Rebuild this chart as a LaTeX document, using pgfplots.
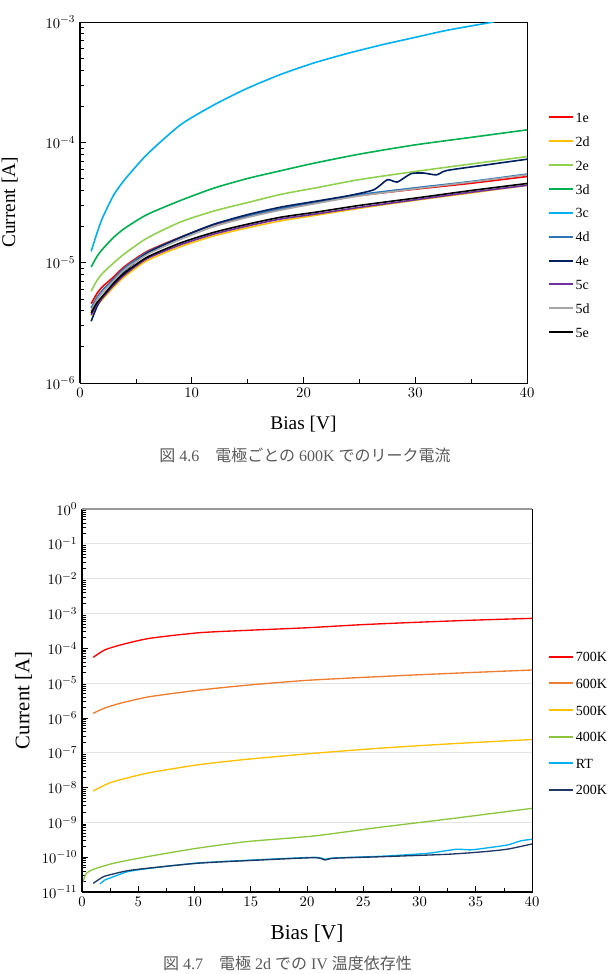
\documentclass[border=0pt]{standalone}
\usepackage{fontspec}
\setmainfont{Liberation Serif}
\newfontfamily\cjk{Noto Sans CJK JP}
\usepackage{pgfplots}
\pgfplotsset{compat=1.18}

% electrode colours
\definecolor{c1e}{HTML}{FF0000}
\definecolor{c2d}{HTML}{FFC000}
\definecolor{c2e}{HTML}{92D050}
\definecolor{c3d}{HTML}{00B050}
\definecolor{c3c}{HTML}{00B0F0}
\definecolor{c4d}{HTML}{2E75B6}
\definecolor{c4e}{HTML}{002060}
\definecolor{c5c}{HTML}{7030A0}
\definecolor{c5d}{HTML}{A6A6A6}
\definecolor{c5e}{HTML}{000000}
% temperature colours
\definecolor{t700}{HTML}{FF0000}
\definecolor{t600}{HTML}{ED7D31}
\definecolor{t500}{HTML}{FFC000}
\definecolor{t400}{HTML}{8CC63F}
\definecolor{tRT}{HTML}{00B0F0}
\definecolor{t200}{HTML}{1F3864}

\pgfplotsset{
  legend image code/.code={\draw[#1, line width=1.5pt] (0pt,0pt) -- (18pt,0pt);},
}

\begin{document}
\begin{tikzpicture}
\useasboundingbox (0,0) rectangle (458.25pt,-730.5pt);

% ---------- leakage current per electrode at 600 K ----------
\begin{axis}[
  scale only axis, ymode=log, xmin=0, xmax=40,
  tick pos=left, tick align=inside, minor x tick num=1,
  tick label style={font=\fontsize{11}{13}\selectfont},
  axis line style={black, line width=0.6pt},
  every tick/.style={black, line width=0.5pt},
  legend cell align=left,
  at={(60pt,-16.5pt)}, anchor=north west,
  width=335.25pt, height=270.75pt,
  ymin=1e-6, ymax=1e-3,
  xtick={0,10,20,30,40},
  ytick={1e-6,1e-5,1e-4,1e-3},
  xlabel={Bias [V]}, ylabel={Current [A]},
  xlabel style={font=\fontsize{14.5}{17}\selectfont, at={(axis description cs:0.5,-0.130)}, anchor=base},
  ylabel style={font=\fontsize{14.5}{17}\selectfont, at={(axis description cs:-0.145,0.5)}, anchor=base},
  legend style={at={(1.047,0.754)}, anchor=north west, draw=none, fill=none, inner sep=0pt,
    font=\fontsize{10.5}{12}\selectfont, row sep=8.4pt,
    nodes={inner sep=1pt, text height=7.5pt, text depth=0pt}},
  every axis plot/.append style={line width=1.2pt, smooth, tension=0.4},
  after end axis/.code={\draw[black, line width=1pt] (rel axis cs:0,0) -- (rel axis cs:0,1);},
]
\addplot[c1e] coordinates {(1,4.57e-6)(1.5,5.51e-6)(2,6.30e-6)(3,7.60e-6)(4,9.31e-6)(6,1.24e-5)(9,1.63e-5)(12,2.07e-5)(15,2.42e-5)(18,2.79e-5)(21,3.13e-5)(25,3.61e-5)(30,4.08e-5)(35,4.57e-5)(40,5.20e-5)};
\addlegendentry{1e}
\addplot[c2d] coordinates {(1,3.63e-6)(1.5,4.37e-6)(2,4.95e-6)(3,6.25e-6)(4,7.67e-6)(6,1.04e-5)(9,1.36e-5)(12,1.67e-5)(15,1.95e-5)(18,2.23e-5)(21,2.47e-5)(25,2.83e-5)(30,3.30e-5)(35,3.80e-5)(40,4.40e-5)};
\addlegendentry{2d}
\addplot[c2e] coordinates {(1,5.78e-6)(1.5,7.08e-6)(2,8.13e-6)(3,9.93e-6)(4,1.19e-5)(6,1.60e-5)(9,2.18e-5)(12,2.69e-5)(15,3.16e-5)(18,3.70e-5)(21,4.17e-5)(25,4.90e-5)(30,5.73e-5)(35,6.61e-5)(40,7.62e-5)};
\addlegendentry{2e}
\addplot[c3d] coordinates {(1,9.20e-6)(1.5,1.12e-5)(2,1.29e-5)(3,1.62e-5)(4,1.93e-5)(6,2.51e-5)(9,3.29e-5)(12,4.17e-5)(15,5.01e-5)(18,5.82e-5)(21,6.73e-5)(25,7.98e-5)(30,9.53e-5)(35,1.10e-4)(40,1.27e-4)};
\addlegendentry{3d}
\addplot[c3c] coordinates {(1,1.24e-5)(1.5,1.74e-5)(2,2.34e-5)(3,3.63e-5)(4,4.90e-5)(6,7.94e-5)(9,1.40e-4)(12,2.05e-4)(15,2.82e-4)(18,3.68e-4)(21,4.59e-4)(24,5.50e-4)(27,6.46e-4)(30,7.46e-4)(33,8.59e-4)(37,1.0e-3)};
\addlegendentry{3c}
\addplot[c4d] coordinates {(1,4.21e-6)(1.5,5.14e-6)(2,5.90e-6)(3,7.33e-6)(4,9.06e-6)(6,1.22e-5)(9,1.62e-5)(12,2.08e-5)(15,2.45e-5)(18,2.82e-5)(21,3.18e-5)(25,3.68e-5)(30,4.19e-5)(35,4.73e-5)(40,5.45e-5)};
\addlegendentry{4d}
\addplot[c4e] coordinates {(1,3.26e-6)(1.5,4.27e-6)(2,5.13e-6)(3,6.76e-6)(4,8.51e-6)(6,1.20e-5)(9,1.62e-5)(12,2.09e-5)(15,2.51e-5)(18,2.90e-5)(21,3.23e-5)(24,3.60e-5)(26.3,4.04e-5)(27.5,4.89e-5)(28.4,4.68e-5)(29.6,5.48e-5)(30.7,5.56e-5)(31.9,5.37e-5)(32.8,5.83e-5)(36,6.43e-5)(40,7.24e-5)};
\addlegendentry{4e}
\addplot[c5c] coordinates {(1,3.69e-6)(1.5,4.47e-6)(2,5.07e-6)(3,6.47e-6)(4,7.94e-6)(6,1.08e-5)(9,1.41e-5)(12,1.73e-5)(15,2.02e-5)(18,2.31e-5)(21,2.53e-5)(25,2.88e-5)(30,3.33e-5)(35,3.85e-5)(40,4.39e-5)};
\addlegendentry{5c}
\addplot[c5d] coordinates {(1,3.98e-6)(1.5,4.90e-6)(2,5.62e-6)(3,7.05e-6)(4,8.71e-6)(6,1.17e-5)(9,1.56e-5)(12,2.00e-5)(15,2.38e-5)(18,2.74e-5)(21,3.09e-5)(25,3.59e-5)(30,4.11e-5)(35,4.68e-5)(40,5.37e-5)};
\addlegendentry{5d}
\addplot[c5e] coordinates {(1,3.82e-6)(1.5,4.62e-6)(2,5.25e-6)(3,6.70e-6)(4,8.22e-6)(6,1.11e-5)(9,1.46e-5)(12,1.79e-5)(15,2.09e-5)(18,2.39e-5)(21,2.62e-5)(25,2.99e-5)(30,3.44e-5)(35,3.98e-5)(40,4.55e-5)};
\addlegendentry{5e}
\end{axis}

\node[anchor=base, font=\fontsize{12}{14}\selectfont, text=black!65] at (228.75pt,-345.75pt)
  {{\cjk 図} 4.6{\cjk 　電極ごとの} 600K {\cjk でのリーク電流}};

% ---------- IV temperature dependence, electrode 2d ----------
\begin{axis}[
  scale only axis, ymode=log, xmin=0, xmax=40,
  tick pos=left, tick align=inside, minor x tick num=1,
  tick label style={font=\fontsize{11}{13}\selectfont},
  axis line style={black, line width=0.6pt},
  every tick/.style={black, line width=0.5pt},
  legend cell align=left,
  at={(61.5pt,-381.75pt)}, anchor=north west,
  width=337.5pt, height=287.25pt,
  ymin=1e-11, ymax=1,
  xtick={0,5,...,40},
  ytick={1e-11,1e-10,1e-9,1e-8,1e-7,1e-6,1e-5,1e-4,1e-3,1e-2,1e-1,1},
  extra y ticks={1e-1,1e-2,1e-3,1e-5,1e-7,1e-9},
  extra y tick labels={},
  extra y tick style={grid=major, major tick length=0pt},
  grid style={gray!22, line width=0.7pt},
  xlabel={Bias [V]}, ylabel={Current [A]},
  xlabel style={font=\fontsize{16}{19}\selectfont, at={(axis description cs:0.5,-0.125)}, anchor=base},
  ylabel style={font=\fontsize{15.5}{18}\selectfont, at={(axis description cs:-0.117,0.5)}, anchor=base},
  legend style={at={(1.036,0.631)}, anchor=north west, draw=none, fill=none, inner sep=0pt,
    font=\fontsize{10.5}{12}\selectfont, row sep=10.4pt,
    nodes={inner sep=1pt, text height=7.5pt, text depth=0pt}},
  every axis plot/.append style={line width=1pt, smooth, tension=0.4},
  after end axis/.code={
    \draw[black, line width=1.2pt] (rel axis cs:0,0) -- (rel axis cs:0,1);
    \draw[black, line width=1.2pt] (rel axis cs:0,0) -- (rel axis cs:1,0);
    \draw[gray!80, line width=0.8pt] (rel axis cs:0,1) -- (rel axis cs:1,1);},
]
\addplot[t700] coordinates {(1,5.5e-5)(2,8.91e-5)(3.4,1.24e-4)(6,1.93e-4)(10.5,2.81e-4)(15,3.31e-4)(20,3.89e-4)(25,4.79e-4)(30,5.62e-4)(35,6.46e-4)(40,7.24e-4)};
\addlegendentry{700K}
\addplot[t600] coordinates {(1,1.36e-6)(2,1.91e-6)(3.4,2.63e-6)(6,4.07e-6)(10.5,6.34e-6)(15,8.91e-6)(20,1.20e-5)(25,1.46e-5)(30,1.74e-5)(35,2.04e-5)(40,2.38e-5)};
\addlegendentry{600K}
\addplot[t500] coordinates {(1,7.96e-9)(2,1.17e-8)(2.8,1.48e-8)(5.75,2.57e-8)(10.2,4.45e-8)(14.6,6.46e-8)(20.6,9.64e-8)(26.5,1.35e-7)(32.4,1.78e-7)(40,2.40e-7)};
\addlegendentry{500K}
\addplot[t400] coordinates {(0,1.78e-11)(0.2,2.51e-11)(0.4,3.47e-11)(1,4.47e-11)(2.8,6.68e-11)(5.75,1.03e-10)(10.2,1.80e-10)(14.6,2.79e-10)(20.6,4.07e-10)(26.5,7.24e-10)(32.4,1.23e-9)(40,2.53e-9)};
\addlegendentry{400K}
\addplot[tRT] coordinates {(1.6,1.70e-11)(2,2.19e-11)(2.8,2.75e-11)(4,3.80e-11)(5.75,4.68e-11)(10.2,6.76e-11)(14.6,8.13e-11)(20.6,9.89e-11)(21.6,8.71e-11)(22.4,9.55e-11)(26.5,1.06e-10)(29.5,1.21e-10)(31,1.32e-10)(33.3,1.69e-10)(34.5,1.62e-10)(35.4,1.74e-10)(37.8,2.24e-10)(39,2.95e-10)(40,3.27e-10)};
\addlegendentry{RT}
\addplot[t200] coordinates {(1,1.78e-11)(1.9,2.75e-11)(2.8,3.31e-11)(4,4.07e-11)(5.75,4.79e-11)(10.2,6.68e-11)(14.6,7.94e-11)(20.6,9.68e-11)(21.6,8.32e-11)(22.4,9.33e-11)(26.5,1.03e-10)(32.4,1.21e-10)(35.4,1.41e-10)(37.8,1.70e-10)(40,2.40e-10)};
\addlegendentry{200K}
\end{axis}

\node[anchor=base, font=\fontsize{12}{14}\selectfont, text=black!65] at (215.6pt,-726.75pt)
  {{\cjk 図} 4.7{\cjk 　電極} 2d {\cjk での} IV {\cjk 温度依存性}};
\end{tikzpicture}
\end{document}
